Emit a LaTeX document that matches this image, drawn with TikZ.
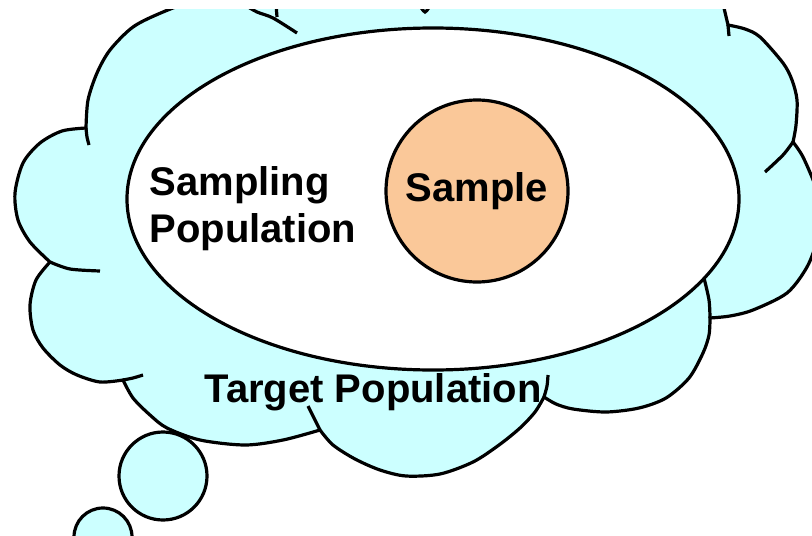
\documentclass[tikz,border=0pt]{standalone}
\usepackage{fontspec}
\setmainfont{Liberation Sans}
\usetikzlibrary{shapes.geometric}
\definecolor{cloudcyan}{RGB}{204,255,255}
\definecolor{sampleorange}{RGB}{250,200,153}

\begin{document}
\begin{tikzpicture}[x=0.5pt, y=-0.5pt, line width=1.6pt,
		puff/.style={draw=black, fill=cloudcyan},
		lbl/.style={font=\fontsize{20}{23.5}\selectfont\bfseries, inner sep=0pt}]
		\useasboundingbox (0,0) rectangle (812,535);
		\clip (0,10) rectangle (812,535);
		\path[puff] (215,-8)
			-- plot[smooth] coordinates {(215,-8) (163,12) (133,27) (110,50) (97,73) (88,100) (86,128)}
			-- plot[smooth] coordinates {(86,128) (62,131) (40,143) (23,163) (15,193) (18,220) (30,242) (50,262)}
			-- plot[smooth] coordinates {(50,262) (36,280) (30,305) (33,330) (43,348) (60,365) (77,375) (100,382) (123,380)}
			-- plot[smooth] coordinates {(123,380) (133,398) (150,415) (167,428) (200,440) (245,445) (283,440) (320,430)}
			-- plot[smooth] coordinates {(320,430) (333,445) (355,459) (380,470) (406,476) (440,474) (473,462) (499,445) (520,428) (535,412) (544,397)}
			-- plot[smooth] coordinates {(544,397) (556,404) (573,409) (606,412) (639,408) (666,398) (689,378) (703,353) (709,335) (710,318)}
			-- plot[smooth] coordinates {(710,318) (730,316) (753,310) (787,293) (807,267) (817,240) (820,212) (816,188) (803,157) (793,142)}
			-- plot[smooth] coordinates {(793,142) (796,125) (797,100) (792,80) (783,63) (760,37) (745,29) (728,25)}
			-- (724,8) -- (722,-10) -- cycle;
		\draw plot[smooth] coordinates {(86,128) (87,137) (89,145)}
			plot[smooth] coordinates {(50,262) (70,269) (100,271)}
			plot[smooth] coordinates {(123,380) (133,378) (143,375)}
			plot[smooth] coordinates {(320,430) (314,418) (308,406)}
			plot[smooth] coordinates {(544,397) (547,386) (548,375)}
			plot[smooth] coordinates {(710,318) (709,300) (704,278)}
			plot[smooth] coordinates {(793,142) (783,155) (765,172)}
			plot[smooth] coordinates {(728,25) (729,36)}
			plot[smooth] coordinates {(245,5) (257,12) (273,18) (297,33)}
			plot[smooth] coordinates {(276,4) (277,17)}
			plot[smooth] coordinates {(419,4) (425,12) (431,4)};
		\node at (433,199) [ellipse, draw, fill=white, minimum width=306pt, minimum height=171pt] (sp100) {};
		\node at (477,191) [circle, draw, fill=sampleorange, minimum size=91pt, lbl] (sm100) {Sample};
		\node at (148,242) [anchor=base west, align=left, lbl] (spl100) {Sampling\\Population};
		\node at (203,402) [anchor=base west, lbl] (tp100) {Target Population};
		\node at (163,476) [circle, puff, minimum size=44pt] (bu100) {};
		\node at (103,537) [circle, puff, minimum size=29pt] (bu200) {};
\end{tikzpicture}
\end{document}
